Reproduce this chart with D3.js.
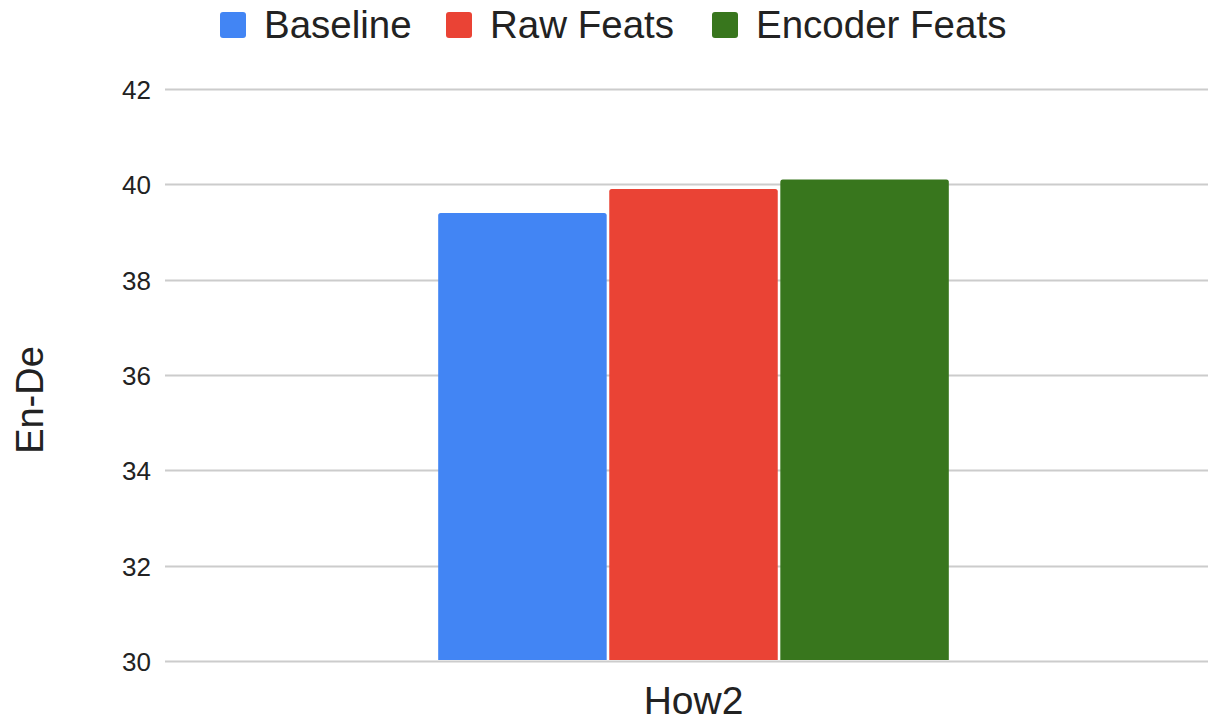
<!DOCTYPE html>
<html>
<head>
<meta charset="utf-8">
<script src="https://cdn.jsdelivr.net/npm/d3@7"></script>
<style>
  html, body { margin: 0; padding: 0; background: #fff; }
  svg { display: block; font-family: "Liberation Sans", Arial, sans-serif; }
</style>
</head>
<body>
<svg id="chart" width="1211" height="721"></svg>
<script>
// Chart data
const categories = ["How2"];
const seriesNames = ["Baseline", "Raw Feats", "Encoder Feats"];
const baselineValues = [39.4];
const rawFeatsValues = [39.9];
const encoderFeatsValues = [40.1];
const yTicks = [30, 32, 34, 36, 38, 40, 42];
const colors = ["#4285F4", "#EA4335", "#38761D"];

const seriesValues = [baselineValues, rawFeatsValues, encoderFeatsValues];

const svg = d3.select("#chart");
const W = 1211, H = 721;
const plot = { left: 165, right: 1222, top: 89, bottom: 661 };

const y = d3.scaleLinear().domain([30, 42]).range([plot.bottom, plot.top]);
const x0 = d3.scaleBand().domain(categories).range([plot.left, plot.right]).paddingInner(0).paddingOuter(0.535);
const x1 = d3.scaleBand().domain(seriesNames).range([0, x0.bandwidth()]).paddingInner(0.015);

// gridlines
svg.append("g")
  .selectAll("line")
  .data(yTicks)
  .join("line")
  .attr("x1", plot.left)
  .attr("x2", W - 3)
  .attr("y1", d => Math.round(y(d)) + 0.5)
  .attr("y2", d => Math.round(y(d)) + 0.5)
  .attr("stroke", "#cccccc")
  .attr("stroke-width", 2);

// y axis labels
const yAxis = d3.axisLeft(y).tickValues(yTicks).tickSize(0).tickPadding(0);
const yg = svg.append("g").attr("transform", `translate(151,0)`).call(yAxis);
yg.select(".domain").remove();
yg.selectAll("text")
  .attr("font-size", 26)
  .attr("fill", "#222")
  .attr("font-family", "Liberation Sans, Arial, sans-serif")
  .attr("x", 0)
  .attr("dy", "0.36em");

// bars
const bars = [];
categories.forEach((c, ci) => {
  seriesNames.forEach((s, si) => {
    bars.push({ cat: c, series: s, value: seriesValues[si][ci], color: colors[si] });
  });
});

const r = 2.5;
svg.append("g")
  .selectAll("path")
  .data(bars)
  .join("path")
  .attr("fill", d => d.color)
  .attr("d", d => {
    const xL = x0(d.cat) + x1(d.series);
    const w = x1.bandwidth();
    const yT = y(d.value);
    const yB = plot.bottom - 1;
    return `M${xL},${yB} L${xL},${yT + r} Q${xL},${yT} ${xL + r},${yT} L${xL + w - r},${yT} Q${xL + w},${yT} ${xL + w},${yT + r} L${xL + w},${yB} Z`;
  });

// x axis category label
svg.append("g")
  .selectAll("text")
  .data(categories)
  .join("text")
  .attr("x", d => x0(d) + x0.bandwidth() / 2)
  .attr("y", 714)
  .attr("text-anchor", "middle")
  .attr("font-size", 39)
  .attr("fill", "#222")
  .text(d => d);

// y axis title
svg.append("text")
  .attr("transform", `translate(43,400) rotate(-90)`)
  .attr("text-anchor", "middle")
  .attr("font-size", 38)
  .attr("fill", "#222")
  .text("En-De");

// legend
const legendX = [220, 446, 712];
const lg = svg.append("g");
seriesNames.forEach((s, i) => {
  lg.append("rect")
    .attr("x", legendX[i]).attr("y", 12)
    .attr("width", 26).attr("height", 26)
    .attr("rx", 3)
    .attr("fill", colors[i]);
  lg.append("text")
    .attr("x", legendX[i] + 44)
    .attr("y", 38)
    .attr("font-size", 38.5)
    .attr("fill", "#222")
    .text(s);
});
</script>
</body>
</html>
